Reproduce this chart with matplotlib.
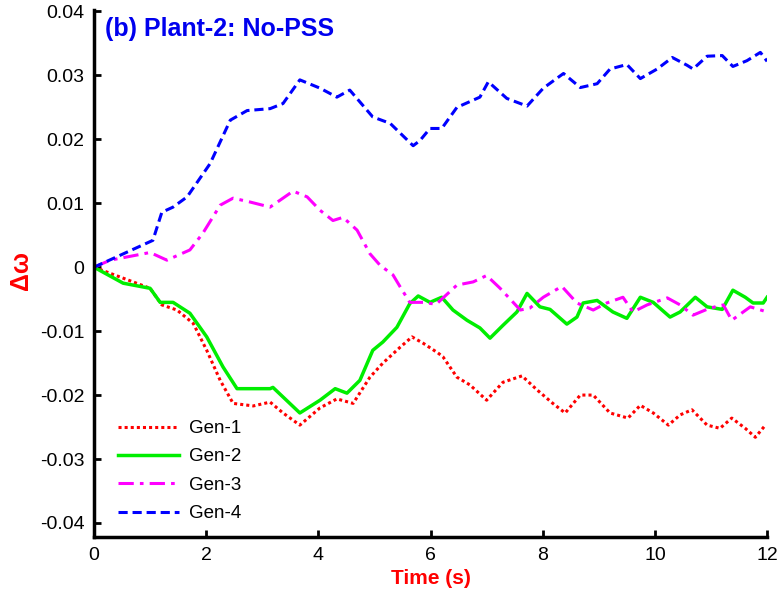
import matplotlib
matplotlib.use("Agg")
import matplotlib.pyplot as plt

plt.rcParams['font.family'] = ['Liberation Sans', 'DejaVu Sans']

# Gen-1 (red dotted)
t1 = [0, 1.0, 1.21, 1.48, 1.77, 2.01, 2.25, 2.48, 2.84, 3.14, 3.37, 3.67, 4.03, 4.33, 4.62,
      4.92, 5.15, 5.46, 5.67, 5.87, 6.13, 6.22, 6.47, 6.7, 7.0, 7.29, 7.63, 7.9, 8.18, 8.4,
      8.67, 8.9, 9.2, 9.52, 9.74, 9.97, 10.24, 10.45, 10.66, 10.93, 11.16, 11.37, 11.61,
      11.79, 11.97]
g1 = [0, -0.0033, -0.0059, -0.0067, -0.0088, -0.013, -0.0177, -0.0213, -0.0217, -0.0211,
      -0.0228, -0.0247, -0.022, -0.0206, -0.0213, -0.0172, -0.015, -0.0125, -0.0109, -0.0119,
      -0.0134, -0.014, -0.0172, -0.0184, -0.0208, -0.018, -0.017, -0.0192, -0.0213, -0.0228,
      -0.02, -0.02, -0.0228, -0.0236, -0.0216, -0.0228, -0.0247, -0.0231, -0.0223, -0.0247,
      -0.0252, -0.0236, -0.0252, -0.0266, -0.0247]

# Gen-2 (green solid)
t2 = [0, 0.52, 1.0, 1.18, 1.41, 1.71, 2.01, 2.3, 2.55, 3.14, 3.19, 3.67, 4.03, 4.3, 4.51,
      4.74, 4.97, 5.15, 5.4, 5.63, 5.78, 5.99, 6.2, 6.4, 6.65, 6.88, 7.06, 7.29, 7.54, 7.72,
      7.95, 8.13, 8.43, 8.61, 8.72, 8.97, 9.25, 9.5, 9.74, 9.97, 10.27, 10.45, 10.72, 10.93,
      11.2, 11.39, 11.61, 11.75, 11.93, 12.0]
g2 = [0, -0.0025, -0.0033, -0.0055, -0.0055, -0.0072, -0.0109, -0.0156, -0.019, -0.019,
      -0.0188, -0.0228, -0.0208, -0.019, -0.0197, -0.0177, -0.013, -0.0117, -0.0094, -0.0057,
      -0.0045, -0.0055, -0.0047, -0.0067, -0.0083, -0.0095, -0.0111, -0.0091, -0.007, -0.0041,
      -0.0062, -0.0066, -0.0089, -0.0078, -0.0056, -0.0052, -0.007, -0.008, -0.0047, -0.0055,
      -0.0078, -0.007, -0.0047, -0.0062, -0.0066, -0.0036, -0.0047, -0.0056, -0.0056, -0.0047]

# Gen-3 (magenta dash-dot)
t3 = [0, 0.29, 1.0, 1.3, 1.71, 1.94, 2.25, 2.48, 2.78, 3.14, 3.55, 3.8, 4.03, 4.26, 4.44,
      4.69, 4.92, 5.1, 5.33, 5.46, 5.63, 5.87, 6.1, 6.47, 6.76, 7.0, 7.24, 7.6, 7.77, 8.01,
      8.34, 8.61, 8.9, 9.14, 9.43, 9.61, 9.86, 10.22, 10.45, 10.68, 10.98, 11.22, 11.37,
      11.7, 12.0]
g3 = [0, 0.0011, 0.0023, 0.0011, 0.0027, 0.0053, 0.0097, 0.0108, 0.0102, 0.0094, 0.0119,
      0.011, 0.0089, 0.0073, 0.0078, 0.0058, 0.0021, 0.0003, -0.0012, -0.0031, -0.0055,
      -0.0055, -0.0058, -0.0028, -0.0023, -0.0013, -0.0033, -0.0067, -0.0064, -0.0047,
      -0.003, -0.0056, -0.0067, -0.0056, -0.0047, -0.007, -0.0059, -0.0048, -0.0059,
      -0.0075, -0.0064, -0.0059, -0.0083, -0.0062, -0.007]

# Gen-4 (blue dashed)
t4 = [0, 1.05, 1.21, 1.41, 1.66, 2.07, 2.43, 2.73, 3.14, 3.37, 3.67, 4.03, 4.33, 4.56, 4.97,
      5.28, 5.69, 5.81, 5.99, 6.2, 6.47, 6.88, 7.03, 7.36, 7.72, 8.01, 8.37, 8.67, 8.97, 9.2,
      9.5, 9.74, 10.04, 10.31, 10.57, 10.68, 10.93, 11.2, 11.39, 11.64, 11.88, 12.0]
g4 = [0, 0.0042, 0.0086, 0.0094, 0.011, 0.0162, 0.023, 0.0245, 0.0248, 0.0256, 0.0293,
      0.028, 0.0266, 0.0277, 0.0235, 0.0225, 0.019, 0.0198, 0.0217, 0.0217, 0.025, 0.0266,
      0.029, 0.0264, 0.0252, 0.028, 0.0303, 0.0281, 0.0287, 0.031, 0.0317, 0.0295, 0.031,
      0.0328, 0.0316, 0.031, 0.033, 0.0331, 0.0314, 0.0323, 0.0336, 0.0322]

x_ticks = [0, 2, 4, 6, 8, 10, 12]
y_ticks = [-0.04, -0.03, -0.02, -0.01, 0, 0.01, 0.02, 0.03, 0.04]
y_tick_labels = ['-0.04', '-0.03', '-0.02', '-0.01', '0', '0.01', '0.02', '0.03', '0.04']

fig = plt.figure(figsize=(7.78, 5.99), dpi=100)
ax = fig.add_axes([0.1208, 0.1035, 0.8652, 0.8795])

lw = 2.2
ax.plot(t1, g1, color='#ff0000', linestyle=(0, (1, 1)), linewidth=lw, label='Gen-1')
ax.plot(t2, g2, color='#00ee00', linestyle='-', linewidth=lw + 0.3, label='Gen-2')
ax.plot(t3, g3, color='#ff00ff', linestyle=(0, (5, 2, 1.2, 2)), linewidth=lw, label='Gen-3')
ax.plot(t4, g4, color='#0000ff', linestyle=(0, (3, 1.6)), linewidth=lw, label='Gen-4')

ax.set_xlim(0, 12)
ax.set_ylim(-0.0422, 0.0402)
ax.set_xticks(x_ticks)
ax.set_xticklabels([str(v) for v in x_ticks])
ax.set_yticks(y_ticks)
ax.set_yticklabels(y_tick_labels)

for side in ['top', 'right']:
    ax.spines[side].set_visible(False)
for side in ['left', 'bottom']:
    ax.spines[side].set_linewidth(2.5)

ax.tick_params(direction='in', length=5, width=2, labelsize=14, pad=7)

ax.set_xlabel('Time (s)', color='red', fontsize=15, fontweight='bold', labelpad=4)
ax.set_ylabel('Δω', color='red', fontsize=18, fontweight='bold', va='center')
ax.yaxis.set_label_coords(-0.108, 0.505)

ax.text(0.19, 0.0373, '(b) Plant-2: No-PSS', color='#0000ee', fontsize=18,
        fontweight='bold', va='center', ha='left')

leg = ax.legend(loc='lower left', bbox_to_anchor=(0.01, -0.004), frameon=False,
                fontsize=13.5, handlelength=3.3, handletextpad=0.5, labelspacing=0.6)

fig.savefig('out.png', dpi=100)
